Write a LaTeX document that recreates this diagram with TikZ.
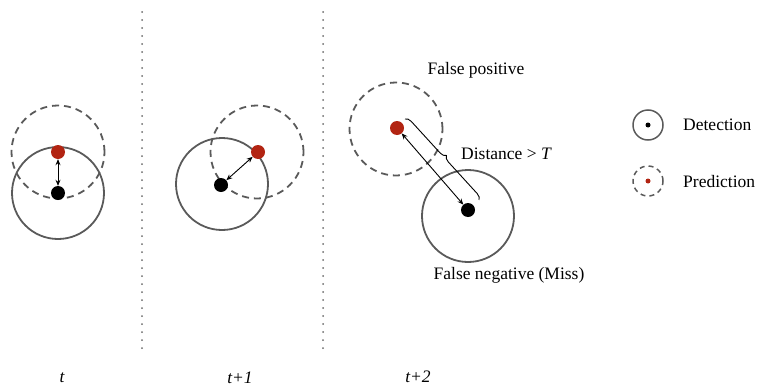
\documentclass[tikz,border=0pt]{standalone}
\usepackage{fontspec}
\setmainfont{Liberation Serif}
\usetikzlibrary{arrows.meta,decorations.pathreplacing}
\definecolor{ringgray}{RGB}{90,90,90}
\definecolor{dotred}{RGB}{178,36,18}
\definecolor{sepgray}{RGB}{105,105,105}
\tikzset{
  detring/.style={circle,draw=ringgray,line width=1.8pt,minimum size=92pt,inner sep=0pt},
  predring/.style={circle,draw=ringgray,line width=1.8pt,dash pattern=on 7pt off 5pt,minimum size=93pt,inner sep=0pt},
  detdot/.style={circle,fill=black,minimum size=14pt,inner sep=0pt},
  preddot/.style={circle,fill=dotred,minimum size=14pt,inner sep=0pt},
  distarrow/.style={{Stealth[length=6pt,width=5pt]}-{Stealth[length=6pt,width=5pt]},line width=0.9pt},
  sepline/.style={draw=sepgray,line width=2pt,line cap=round,dash pattern=on 0pt off 8pt},
  lbl/.style={font=\fontsize{17.5}{20}\selectfont,inner sep=0pt},
  tlbl/.style={font=\fontsize{17.5}{20}\selectfont\itshape,inner sep=0pt},
  legring/.style={circle,draw=ringgray,line width=1.5pt,minimum size=30pt,inner sep=0pt},
  legpred/.style={circle,draw=ringgray,line width=1.5pt,dash pattern=on 5pt off 4pt,minimum size=30pt,inner sep=0pt},
}
\begin{document}
\begin{tikzpicture}[x=1pt,y=-1pt]
\useasboundingbox (0,0) rectangle (759,388);
% separators
\coordinate (s1a) at (142,12); \coordinate (s1b) at (142,354);
\coordinate (s2a) at (323,12); \coordinate (s2b) at (323,354);
\draw[sepline] (s1a) -- (s1b);
\draw[sepline] (s2a) -- (s2b);
% panel t
\node[predring] (p1) at (58,152) {};
\node[detring] (d1) at (58,193) {};
\node[preddot] (r1) at (58,152) {};
\node[detdot] (b1) at (58,193) {};
\draw[distarrow] (r1) -- (b1);
% panel t+1
\node[predring] (p2) at (257,152) {};
\node[detring] (d2) at (222,184) {};
\node[preddot] (r2) at (258,152) {};
\node[detdot] (b2) at (221,185) {};
\draw[distarrow] (r2) -- (b2);
% panel t+2
\node[predring] (p3) at (396,129) {};
\node[detring] (d3) at (468,216) {};
\node[preddot] (r3) at (397,128) {};
\node[detdot] (b3) at (468,210) {};
\draw[distarrow] (r3) -- (b3);
\coordinate (bra) at (405,119);
\coordinate (brb) at (479,200);
\draw[line width=0.9pt,decorate,decoration={brace,amplitude=6pt}] (bra) -- (brb);
\node[lbl,anchor=west] (dist) at (461,154) {Distance > \textit{T}};
\node[lbl] (fp) at (476,70) {False positive};
\node[lbl] (fn) at (509,275) {False negative (Miss)};
% legend
\node[legring] (lg1) at (648,125) {};
\node[circle,fill=black,minimum size=5pt,inner sep=0pt] (lg1d) at (648,125) {};
\node[legpred] (lg2) at (648,181) {};
\node[circle,fill=dotred,minimum size=5pt,inner sep=0pt] (lg2d) at (648,181) {};
\node[lbl,anchor=west] (ldet) at (683,125) {Detection};
\node[lbl,anchor=west] (lpred) at (683,182) {Prediction};
% time labels
\node[tlbl] (t0) at (62,378) {t};
\node[tlbl] (t1) at (240,378) {t+1};
\node[tlbl] (t2) at (418,377) {t+2};
\end{tikzpicture}
\end{document}
